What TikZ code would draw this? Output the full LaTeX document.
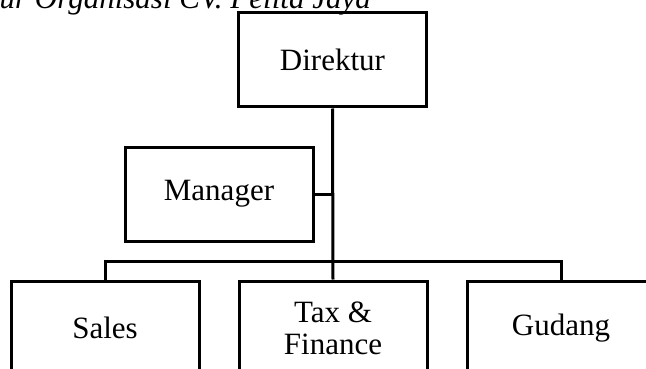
\documentclass[tikz,border=0pt]{standalone}
\usepackage{fontspec}
\setmainfont{Liberation Serif}
\usepackage{tikz}
\usetikzlibrary{calc}

\tikzset{
  unit/.style={draw, line width=3pt, minimum width=188pt, minimum height=94pt,
    align=center, font=\fontsize{31}{32}\selectfont, inner sep=0pt},
  link/.style={line width=3pt}
}

\begin{document}
\begin{tikzpicture}[x=1pt,y=-1pt]
\useasboundingbox (0,0) rectangle (646,369);
\begin{scope}
\clip (0,0) rectangle (646,369);
\node [anchor=base east, inner sep=0pt, font=\fontsize{31}{32}\selectfont\itshape] (title) at (371,9) {ur Organisasi CV. Pelita Jaya};
\node [unit] (dir) at (332.5,60) {Direktur};
\node [unit] (mgr) at (219,194) {Manager};
\node [unit] (sales) at (105,328) {Sales};
\node [unit] (tax) at (333,328) {Tax \&\\Finance};
\node [unit] (gud) at (561,328) {Gudang};
\coordinate (bus) at (333,261);
\draw [link] (dir.south) -- (tax.north);
\draw [link] (mgr.east) -- (mgr.east -| dir.south);
\draw [link] (sales.north) |- (bus) -| (gud.north);
\end{scope}
\end{tikzpicture}
\end{document}
